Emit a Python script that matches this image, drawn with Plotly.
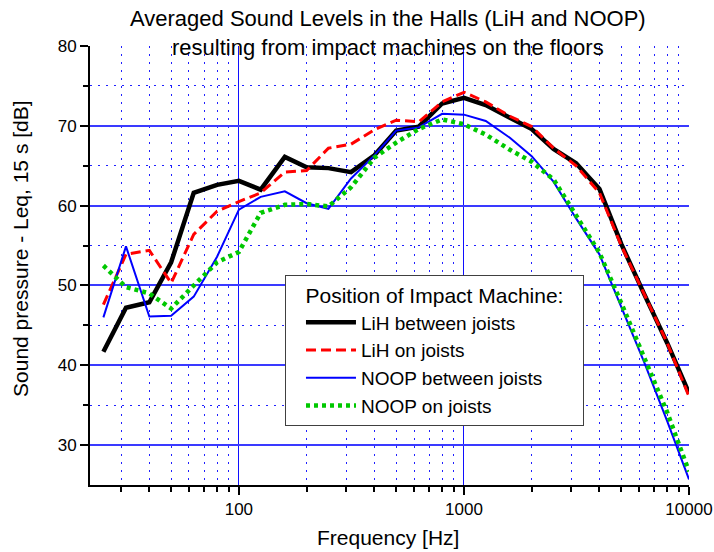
import numpy as np
import plotly.graph_objects as go

# 1/3-octave band centre frequencies [Hz]
freq = [25, 31.5, 40, 50, 63, 80, 100, 125, 160, 200, 250, 315, 400, 500, 630,
        800, 1000, 1250, 1600, 2000, 2500, 3150, 4000, 5000, 6300, 8000, 10000]

lih_between = [41.7, 47.2, 47.9, 52.9, 61.6, 62.6, 63.1, 62.0, 66.1, 64.8, 64.7, 64.2, 66.3, 69.4,
               69.9, 72.8, 73.5, 72.6, 71.0, 69.6, 67.1, 65.3, 62.1, 55.2, 49.0, 42.8, 36.5]
lih_on = [47.6, 53.9, 54.4, 50.3, 56.4, 59.3, 60.5, 61.6, 64.2, 64.4, 67.2, 67.7, 69.5, 70.7,
          70.5, 73.0, 74.2, 73.0, 71.2, 69.9, 67.2, 65.0, 61.6, 55.0, 49.0, 42.8, 36.1]
noop_between = [46.0, 54.9, 46.1, 46.2, 48.6, 53.6, 59.5, 61.1, 61.8, 60.3, 59.6, 63.4, 66.3, 69.4,
                69.8, 71.5, 71.4, 70.6, 68.5, 66.2, 63.0, 58.4, 53.9, 47.3, 40.5, 33.0, 25.7]
noop_on = [52.5, 49.8, 49.0, 47.1, 50.0, 52.9, 54.2, 59.1, 60.1, 60.2, 59.9, 62.3, 66.0, 67.9,
           69.6, 70.8, 70.2, 68.9, 67.0, 65.5, 63.3, 58.7, 54.1, 47.8, 40.9, 34.1, 26.7]

x_major = [100, 1000, 10000]
x_labels = ["100", "1000", "10000"]
x_minor = [30, 40, 50, 60, 70, 80, 90, 200, 300, 400, 500, 600, 700, 800, 900,
           2000, 3000, 4000, 5000, 6000, 7000, 8000, 9000]
y_major = [30, 40, 50, 60, 70, 80]
y_minor = [35, 45, 55, 65, 75]

FONT = "Arial, Liberation Sans, sans-serif"
NB = "\u00a0"

fig = go.Figure()
fig.add_trace(go.Scatter(x=freq, y=lih_between, mode="lines", name="LiH between joists",
                         line=dict(color="black", width=4.5)))
fig.add_trace(go.Scatter(x=freq, y=lih_on, mode="lines", name="LiH on joists",
                         line=dict(color="#ff0000", width=3, dash="10px,5px")))
fig.add_trace(go.Scatter(x=freq, y=noop_between, mode="lines", name="NOOP between joists",
                         line=dict(color="#0000ff", width=2)))
fig.add_trace(go.Scatter(x=freq, y=noop_on, mode="lines", name="NOOP on joists",
                         line=dict(color="#00c800", width=4.5, dash="4px,4px")))

axis_common = dict(
    showline=True, linecolor="black", linewidth=2, automargin=False,
    ticks="outside", ticklen=8, tickwidth=2, tickcolor="black",
    tickfont=dict(family=FONT, size=17, color="black"),
    showgrid=True, zeroline=False,
)

fig.update_xaxes(
    type="log", range=[np.log10(21.8), 4], tickmode="array", tickvals=x_major, ticktext=x_labels,
    gridwidth=1.2, gridcolor="#1010ff",
    minor=dict(tickmode="array", tickvals=x_minor, ticks="outside", ticklen=5, tickwidth=1.5,
               tickcolor="black", showgrid=True, gridcolor="#2020ff", gridwidth=1, griddash="2px,6px"),
    **axis_common,
)
fig.update_yaxes(
    range=[25, 80], tickmode="array", tickvals=y_major, gridwidth=1.5, gridcolor="#3a3aff",
    minor=dict(tickmode="array", tickvals=y_minor, ticks="outside", ticklen=5, tickwidth=1.5,
               tickcolor="black", showgrid=True, gridcolor="#2020ff", gridwidth=1, griddash="2px,6px"),
    **axis_common,
)

fig.update_layout(
    width=714, height=552,
    margin=dict(l=90, r=25, t=46, b=67),
    paper_bgcolor="white", plot_bgcolor="white",
    font=dict(family=FONT, color="black"),
    legend=dict(x=0.3255, y=0.478, xanchor="left", yanchor="top",
                bgcolor="white", bordercolor="#404040", borderwidth=1,
                font=dict(family=FONT, size=19, color="black"),
                title=dict(text=NB * 3 + "Position of Impact Machine:" + NB * 3,
                           font=dict(family=FONT, size=21)),
                indentation=15, itemwidth=50, tracegroupgap=0),
    showlegend=True,
    annotations=[
        dict(text="Averaged Sound Levels in the Halls (LiH and NOOP)<br>resulting from impact machines on the floors",
             xref="paper", yref="paper", x=0.4975, y=1.03, xanchor="center", yanchor="middle",
             showarrow=False, font=dict(family=FONT, size=22, color="black")),
        dict(text="Sound pressure - Leq, 15 s [dB]", xref="paper", yref="paper", x=-0.1152, y=0.54,
             xanchor="center", yanchor="middle",
             textangle=-90, showarrow=False, font=dict(family=FONT, size=21, color="black")),
        dict(text="Frequency [Hz]", xref="paper", yref="paper", x=0.4975, y=-0.1185,
             xanchor="center", yanchor="middle",
             showarrow=False, font=dict(family=FONT, size=21, color="black")),
    ],
)

# drop the default page margin so the figure fills the window exactly
fig.write_html("out.html", config={"displayModeBar": False},
               post_script="document.body.style.margin = '0px';")
